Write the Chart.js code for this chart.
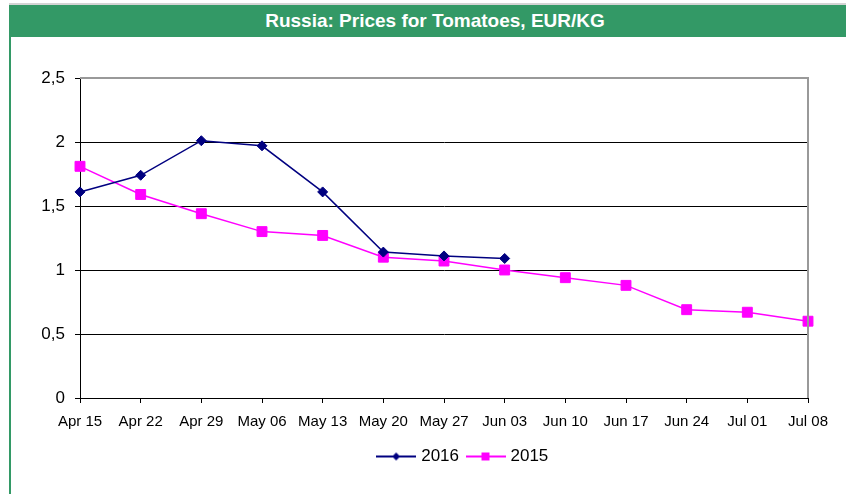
<!DOCTYPE html>
<html>
<head>
<meta charset="utf-8">
<script src="https://cdn.jsdelivr.net/npm/chart.js@4.4.1/dist/chart.umd.min.js"></script>
<style>
  html, body { margin: 0; padding: 0; background: #fff; overflow: hidden; }
  #page { position: relative; width: 846px; height: 494px; font-family: "Liberation Sans", Arial, sans-serif; }
  #topline { position: absolute; left: 9px; top: 3px; width: 837px; height: 2px; background: #d4d4d4; }
  #bar { position: absolute; left: 9px; top: 5px; width: 837px; height: 32px; background: #339966; }
  #leftline { position: absolute; left: 9px; top: 37px; width: 2px; height: 457px; background: #339966; }
  #title { position: absolute; left: 24px; top: 5px; width: 822px; height: 32px; line-height: 32px;
           text-align: center; color: #fff; font-weight: bold; font-size: 19px; }
  #beginnerchart { position: absolute; left: 0; top: 0; }
</style>
</head>
<body>
<div id="page">
  <div id="topline"></div>
  <div id="bar"></div>
  <div id="leftline"></div>
  <div id="title">Russia: Prices for Tomatoes, EUR/KG</div>
  <canvas id="beginnerchart" width="846" height="494"></canvas>
</div>
<script>
// weeks on the x axis
const weeks = ['Apr 15', 'Apr 22', 'Apr 29', 'May 06', 'May 13', 'May 20', 'May 27',
               'Jun 03', 'Jun 10', 'Jun 17', 'Jun 24', 'Jul 01', 'Jul 08'];

// prices EUR/KG
const prices2016 = [1.61, 1.74, 2.01, 1.97, 1.61, 1.14, 1.11, 1.09];
const prices2015 = [1.81, 1.59, 1.44, 1.30, 1.27, 1.10, 1.07, 1.00, 0.94, 0.88, 0.69, 0.67, 0.60];

// y axis ticks
const yTicks = [0, 0.5, 1, 1.5, 2, 2.5];

const navy = '#000080';
const magenta = '#FF00FF';
const fontFam = '"Liberation Sans", Arial, sans-serif';

// little line+marker picture for the legend (excel style)
function legendIcon(color, style) {
  const c = document.createElement('canvas');
  c.width = 40; c.height = 12;
  const g = c.getContext('2d');
  g.strokeStyle = color;
  g.lineWidth = 2;
  g.beginPath(); g.moveTo(0, 6); g.lineTo(40, 6); g.stroke();
  g.fillStyle = color;
  if (style === 'diamond') {
    g.beginPath(); g.moveTo(20, 2); g.lineTo(24, 6); g.lineTo(20, 10); g.lineTo(16, 6); g.closePath(); g.fill();
  } else {
    g.fillRect(16, 2, 8, 8);
  }
  return c;
}
const icons = [legendIcon(navy, 'diamond'), legendIcon(magenta, 'square')];

// right + top border of the plot area in grey
const frame = {
  id: 'frame',
  afterLayout(chart) {
    // legend sits a bit right of the canvas centre in the original
    chart.legend.left += 60;
    chart.legend.right += 60;
  },
  afterDraw(chart) {
    const a = chart.chartArea;
    const ctx = chart.ctx;
    ctx.save();
    ctx.strokeStyle = '#999999';
    ctx.lineWidth = 2;
    ctx.beginPath();
    ctx.moveTo(a.left, a.top);
    ctx.lineTo(a.right, a.top);
    ctx.lineTo(a.right, a.bottom);
    ctx.stroke();
    ctx.restore();
  }
};

const beginnerchart = document.getElementById('beginnerchart').getContext('2d');

const chart = new Chart(beginnerchart, {
  type: 'line',
  data: {
    labels: weeks,
    datasets: [{
      label: '2016',
      data: prices2016,
      borderColor: navy,
      backgroundColor: navy,
      borderWidth: 1.5,
      pointStyle: 'rectRot',
      pointRadius: 5,
      pointHoverRadius: 5,
      pointBorderWidth: 1,
      tension: 0
    }, {
      label: '2015',
      data: prices2015,
      borderColor: magenta,
      backgroundColor: magenta,
      borderWidth: 1.5,
      pointStyle: 'rect',
      pointRadius: 7,
      pointHoverRadius: 7,
      pointBorderWidth: 1,
      tension: 0
    }]
  },
  options: {
    responsive: false,
    animation: false,
    layout: { padding: { top: 78, left: 0, right: 38, bottom: 19 } },
    plugins: {
      tooltip: { enabled: false },
      legend: {
        position: 'bottom',
        labels: {
          usePointStyle: true,
          pointStyleWidth: 33,
          padding: 10,
          color: '#000',
          font: { family: fontFam, size: 17 },
          generateLabels(ch) {
            return ch.data.datasets.map((ds, i) => ({
              text: ds.label,
              pointStyle: icons[i],
              fillStyle: ds.borderColor,
              strokeStyle: ds.borderColor,
              lineWidth: 0,
              hidden: false,
              datasetIndex: i,
              fontColor: '#000'
            }));
          }
        }
      }
    },
    scales: {
      x: {
        offset: false,
        afterFit(scale) { scale.height = 40; },
        grid: { display: true, drawOnChartArea: false, tickLength: 5, tickColor: '#000' },
        border: { color: '#000', width: 1 },
        ticks: {
          color: '#000',
          padding: 10,
          maxRotation: 0,
          autoSkip: false,
          font: { family: fontFam, size: 15 }
        }
      },
      y: {
        min: 0,
        max: 2.5,
        afterFit(scale) { scale.width = 80; },
        afterBuildTicks(scale) { scale.ticks = yTicks.map(v => ({ value: v })); },
        grid: {
          color: '#000',
          lineWidth: 1,
          tickLength: 5,
          tickColor: '#000'
        },
        border: { color: '#000', width: 1 },
        ticks: {
          color: '#000',
          padding: 10,
          font: { family: fontFam, size: 17 },
          callback: v => String(v).replace('.', ',')
        }
      }
    }
  },
  plugins: [frame]
});
</script>
</body>
</html>
